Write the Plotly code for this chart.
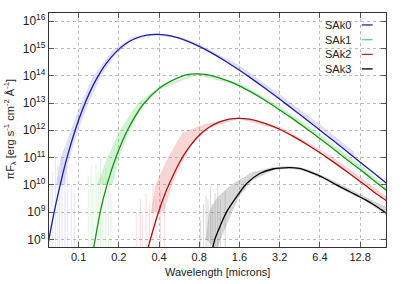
import plotly.graph_objects as go

# ---------------- data ----------------
series_names = ["SAk0", "SAk1", "SAk2", "SAk3"]

# best-fit curves (wavelength in microns, pi*F_lambda)
sak0_wl = [0.057, 0.0608, 0.0684, 0.076, 0.0836, 0.095, 0.1064, 0.1216, 0.1368, 0.1596, 0.19, 0.228, 0.2736,
           0.323, 0.38, 0.456, 0.551, 0.665, 0.798, 0.988, 1.216, 1.52, 1.9, 2.47, 3.23, 4.18, 5.32, 6.84,
           9.12, 12.16, 15.96, 20.9]
sak0_f = [2.6e7, 1.5e8, 2.62e9, 2.43e10, 1.45e11, 1.14e12, 5.45e12, 2.56e13, 7.98e13, 2.65e14, 7.35e14, 1.545e15,
          2.47e15, 3.1e15, 3.31e15, 3.07e15, 2.48e15, 1.79e15, 1.2e15, 6.9e14, 3.78e14, 1.87e14, 8.87e13,
          3.54e13, 1.34e13, 5.13e12, 2.06e12, 7.85e11, 2.58e11, 8.36e10, 2.87e10, 9.9e9]

sak1_wl = [0.125, 0.133, 0.145, 0.163, 0.19, 0.232, 0.305, 0.4, 0.512, 0.646, 0.76, 0.912, 1.102, 1.33, 1.596,
           1.976, 2.432, 3.04, 3.8, 4.94, 6.46, 8.36, 10.64, 13.68, 18.24, 20.9]
sak1_f = [1.9e7, 1e8, 1e9, 1e10, 1e11, 1e12, 9e12, 3.4e13, 7e13, 1.1e14, 1.17e14, 1.1e14, 8.7e13, 6.3e13, 4.27e13,
          2.45e13, 1.35e13, 6.6e12, 3.16e12, 1.26e12, 4.8e11, 1.82e11, 7.2e10, 2.8e10, 9.1e9, 5.6e9]

sak2_wl = [0.316, 0.348, 0.395, 0.442, 0.474, 0.569, 0.664, 0.79, 0.948, 1.138, 1.343, 1.58, 1.896, 2.29, 2.765,
           3.318, 4.108, 5.056, 6.32, 7.9, 10.27, 13.43, 17.38, 20.9]
sak2_f = [2.0e7, 1.2e8, 9.5e8, 4.5e9, 1.02e10, 6.6e10, 2.2e11, 6.2e11, 1.29e12, 2.04e12, 2.57e12, 2.75e12, 2.57e12,
          2.05e12, 1.49e12, 1.0e12, 5.7e11, 3.14e11, 1.56e11, 7.4e10, 2.95e10, 1.12e10, 4.3e9, 2.3e9]

sak3_wl = [0.985, 1.046, 1.15, 1.28, 1.52, 1.81, 2.27, 2.85, 3.75, 4.5, 5.06, 6.0, 7.14, 8.5, 10.07, 12.0, 14.2,
           17.0, 20.9]
sak3_f = [2.8e7, 1e8, 3.2e8, 1e9, 3.6e9, 1.12e10, 2.6e10, 3.8e10, 4.27e10, 4.0e10, 3.3e10, 2.4e10, 1.6e10, 1e10,
          6.5e9, 4.2e9, 2.75e9, 1.6e9, 8.0e8]

# envelopes of the individual (faint) spectra: upper edge, then lower edge
sak0_up_wl = [0.068, 0.074, 0.088, 0.105, 0.13, 0.18, 0.25, 0.38, 0.6, 0.8, 1.6, 3.2, 6.4, 11.5]
sak0_up_f = [1e10, 1e11, 1e12, 1e13, 1e14, 8e14, 2.5e15, 3.5e15, 2.4e15, 1.4e15, 2.3e14, 2.0e13, 1.6e12, 1.6e11]
sak0_lo_wl = [11.5, 6.4, 3.2, 1.6, 0.8, 0.6, 0.38, 0.25, 0.19, 0.15, 0.12, 0.1, 0.085, 0.078]
sak0_lo_f = [1.15e11, 1.2e12, 1.5e13, 1.75e14, 1.2e15, 2.2e15, 3.2e15, 2.0e15, 6.5e14, 1.2e14, 1.2e13, 1.2e12, 1e11, 1e10]

sak1_up_wl = [0.138, 0.165, 0.205, 0.28, 0.4, 0.76, 1.6, 3.2, 6.4, 12.8, 20.0]
sak1_up_f = [1e10, 1e11, 1e12, 1e13, 3.8e13, 1.25e14, 5.2e13, 7.5e12, 7e11, 5.2e10, 8.5e9]
sak1_lo_wl = [20.0, 12.8, 6.4, 3.2, 1.6, 0.76, 0.4, 0.3, 0.24, 0.2, 0.178]
sak1_lo_f = [6.8e9, 4e10, 5.5e11, 6e12, 4.3e13, 1.12e14, 3.1e13, 8e12, 1e12, 1e11, 1e10]

sak2_up_wl = [0.35, 0.378, 0.47, 0.6, 0.9, 1.58, 3.3, 7.9, 13.4, 20.0]
sak2_up_f = [1e9, 1e10, 1e11, 8e11, 1.7e12, 3.0e12, 1.25e12, 1.05e11, 1.6e10, 3.7e9]
sak2_lo_wl = [20.0, 13.4, 7.9, 3.3, 1.58, 0.95, 0.7, 0.56, 0.49, 0.43]
sak2_lo_f = [2.8e9, 1.2e10, 8e10, 1.02e12, 2.68e12, 1.25e12, 3e11, 4e10, 8e9, 1e9]

sak3_up_wl = [0.9, 0.95, 1.1, 1.4, 2.0, 2.85, 3.75, 5.06, 7.14, 10.07, 14.2, 20.0]
sak3_up_f = [1e8, 1e9, 3.5e9, 1e10, 2.8e10, 4.3e10, 4.8e10, 3.8e10, 1.85e10, 8e9, 3.6e9, 1.5e9]
sak3_lo_wl = [20.0, 14.2, 10.07, 7.14, 5.06, 3.75, 2.85, 2.0, 1.6, 1.4, 1.15, 1.08]
sak3_lo_f = [8e8, 2.5e9, 5.8e9, 1.45e10, 3.15e10, 4.1e10, 3.5e10, 1.5e10, 4e9, 1e9, 1e8, 4e7]

# noise spikes of the faint spectra at the short-wavelength end
sak0_spk_wl = [0.062, 0.064, 0.067, 0.070, 0.072, 0.075, 0.079, 0.083, 0.088, 0.093]
sak0_spk_f = [1e10, 3e10, 1e11, 5e10, 2e10, 1e11, 6e10, 3e10, 1e10, 5e9]
sak1_spk_wl = [0.118, 0.124, 0.128, 0.135, 0.14, 0.146, 0.152, 0.16, 0.168, 0.175]
sak1_spk_f = [2e10, 5e10, 1e10, 6e10, 3e10, 1e11, 2e10, 4e10, 1e10, 5e9]
sak2_spk_wl = [0.27, 0.29, 0.30, 0.32, 0.34, 0.36, 0.38, 0.41, 0.44]
sak2_spk_f = [1e9, 3e9, 8e8, 5e9, 2e9, 1e10, 3e9, 6e9, 2e9]
sak3_spk_wl = [0.82, 0.86, 0.90, 0.93, 0.97, 1.0, 1.05, 1.1, 1.15, 1.25]
sak3_spk_f = [5e8, 2e9, 4e9, 3e9, 8e9, 2e9, 5e9, 1e10, 3e9, 6e9]

x_tick_vals = [0.1, 0.2, 0.4, 0.8, 1.6, 3.2, 6.4, 12.8]
x_tick_text = ["0.1", "0.2", "0.4", "0.8", "1.6", "3.2", "6.4", "12.8"]
y_tick_exps = [8, 9, 10, 11, 12, 13, 14, 15, 16]
x_title = "Wavelength [microns]"
y_title = "πF<sub>λ</sub> [erg s<sup>-1</sup> cm<sup>-2</sup> Å<sup>-1</sup>]"

# ---------------- styling ----------------
line_colors = ["rgb(30,30,160)", "rgb(20,150,20)", "rgb(170,20,20)", "rgb(0,0,0)"]
legend_colors = ["rgb(40,40,170)", "rgb(120,205,120)", "rgb(190,40,40)", "rgb(0,0,0)"]
band_colors = ["rgba(150,150,235,0.30)", "rgba(120,215,120,0.33)", "rgba(230,120,120,0.30)", "rgba(130,130,130,0.32)"]
spike_colors = ["rgba(150,150,235,0.25)", "rgba(120,215,120,0.25)", "rgba(230,120,120,0.26)", "rgba(130,130,130,0.30)"]

curves = [(sak0_wl, sak0_f), (sak1_wl, sak1_f), (sak2_wl, sak2_f), (sak3_wl, sak3_f)]
bands = [(sak0_up_wl, sak0_up_f, sak0_lo_wl, sak0_lo_f),
         (sak1_up_wl, sak1_up_f, sak1_lo_wl, sak1_lo_f),
         (sak2_up_wl, sak2_up_f, sak2_lo_wl, sak2_lo_f),
         (sak3_up_wl, sak3_up_f, sak3_lo_wl, sak3_lo_f)]
spikes = [(sak0_spk_wl, sak0_spk_f), (sak1_spk_wl, sak1_spk_f),
          (sak2_spk_wl, sak2_spk_f), (sak3_spk_wl, sak3_spk_f)]

FONT = "Liberation Sans, Arial, sans-serif"
fig = go.Figure()

for i in range(4):
    uw, uf, lw, lf = bands[i]
    fig.add_trace(go.Scatter(x=uw + lw, y=uf + lf, mode="lines", fill="toself",
                             fillcolor=band_colors[i], line=dict(width=0.5, color=band_colors[i]),
                             hoverinfo="skip", showlegend=False))
    sw, sf = spikes[i]
    xs, ys = [], []
    for w, f in zip(sw, sf):
        xs += [w, w, None]
        ys += [3e7, f, None]
    fig.add_trace(go.Scatter(x=xs, y=ys, mode="lines", line=dict(width=1.0, color=spike_colors[i]),
                             hoverinfo="skip", showlegend=False))

for i in range(4):
    w, f = curves[i]
    fig.add_trace(go.Scatter(x=w, y=f, mode="lines", name=series_names[i],
                             line=dict(color=line_colors[i], width=1.3, shape="spline", smoothing=0.8),
                             showlegend=False))

# legend in gnuplot style (text, then line sample)
leg_y = [0.949, 0.886, 0.823, 0.761]
for i in range(4):
    fig.add_annotation(x=0.902, y=leg_y[i], xref="paper", yref="paper", text=series_names[i],
                       showarrow=False, xanchor="right", yanchor="middle",
                       font=dict(family=FONT, size=11, color="#222"))
    fig.add_shape(type="line", xref="paper", yref="paper", x0=0.928, x1=0.9605,
                  y0=leg_y[i], y1=leg_y[i], line=dict(color=legend_colors[i], width=1.3))

# axis titles
fig.add_annotation(x=0.5, y=-0.107, xref="paper", yref="paper", text=x_title, showarrow=False,
                   xanchor="center", yanchor="middle", font=dict(family=FONT, size=11, color="#222"))
fig.add_annotation(x=-0.116, y=0.502, xref="paper", yref="paper", text=y_title, showarrow=False,
                   textangle=-90, xanchor="center", yanchor="middle",
                   font=dict(family=FONT, size=11, color="#222"))

axis_common = dict(showline=True, linecolor="#333", linewidth=1.2, mirror="ticks",
                   ticks="inside", ticklen=5, tickcolor="#555", tickwidth=1,
                   showgrid=True, gridcolor="#bbbbbb", griddash="dot", gridwidth=1,
                   zeroline=False, automargin=False)

fig.update_xaxes(type="log", range=[-1.2218, 1.3010], tickvals=x_tick_vals, ticktext=x_tick_text,
                 tickfont=dict(family=FONT, size=11, color="#222"), **axis_common)
fig.update_yaxes(type="log", range=[7.72, 16.30],
                 tickvals=[10 ** e for e in y_tick_exps],
                 ticktext=["10<sup>%d</sup>" % e for e in y_tick_exps],
                 tickfont=dict(family=FONT, size=12, color="#222"), **axis_common)

fig.update_layout(width=407, height=284, margin=dict(l=49, r=21, t=13, b=37),
                  paper_bgcolor="white", plot_bgcolor="white", showlegend=False)

fig.write_html("out.html", config={"displayModeBar": False, "staticPlot": True},
               post_script="document.body.style.margin='0px';document.body.style.overflow='hidden';")
